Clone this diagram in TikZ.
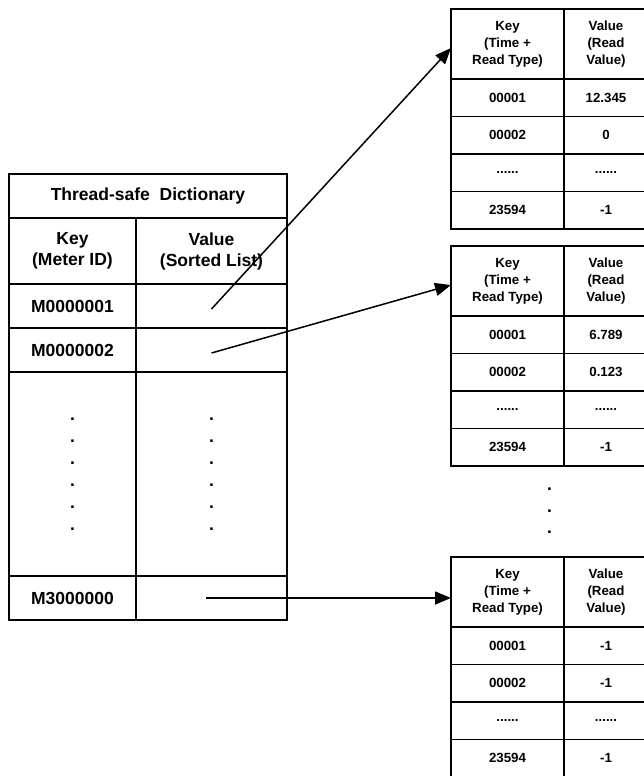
\documentclass[tikz,border=0pt]{standalone}
\usepackage{fontspec}
\setmainfont{Liberation Sans}
\usetikzlibrary{arrows.meta, positioning}
\tikzstyle{cell} = [
  rectangle,
  draw=black,
  line width=1.6pt,
  inner sep=0,
  outer sep=0,
  text centered,
  align=center
]
\tikzstyle{bigcell} = [
  cell,
  font=\fontsize{17.5}{21}\selectfont\bfseries
]
\tikzstyle{keycol} = [
  bigcell,
  minimum width=127pt,
  minimum height=44pt
]
\tikzstyle{valcol} = [
  bigcell,
  minimum width=151pt,
  minimum height=44pt
]
\tikzstyle{dotcell} = [
  minimum height=204pt,
  font=\fontsize{17.5}{22}\selectfont\bfseries
]
\tikzstyle{tkey} = [
  cell,
  minimum width=113pt,
  minimum height=37.5pt,
  font=\fontsize{13.3}{17}\selectfont\bfseries
]
\tikzstyle{tval} = [
  cell,
  minimum width=84pt,
  minimum height=37.5pt,
  font=\fontsize{13.3}{17}\selectfont\bfseries
]
\tikzstyle{arrow} = [
  line width=1.5pt,
  -{Triangle[length=16pt,width=13pt]}
]

\begin{document}
\begin{tikzpicture}[x=1pt, y=-1pt]

    \path[use as bounding box, clip] (0,0) rectangle (644,776);

    % dictionary
    \node (title) [bigcell, minimum width=278pt, minimum height=44pt, anchor=north west] at (9,174) {Thread-safe\ \ Dictionary};
    \node (lkh) [keycol, minimum height=66pt, below right=0pt and 0pt of title.south west] {Key\\(Meter ID)};
    \node (lvh) [valcol, minimum height=66pt, right=0pt of lkh] {Value\\(Sorted List)};
    \node (lk1) [keycol, below=0pt of lkh] {M0000001};
    \node (lv1) [valcol, right=0pt of lk1] {};
    \node (lk2) [keycol, below=0pt of lk1] {M0000002};
    \node (lv2) [valcol, right=0pt of lk2] {};
    \node (lkd) [keycol, dotcell, below=0pt of lk2] {.\\.\\.\\.\\.\\.};
    \node (lvd) [valcol, dotcell, right=0pt of lkd] {.\\.\\.\\.\\.\\.};
    \node (lk3) [keycol, below=0pt of lkd] {M3000000};
    \node (lv3) [valcol, right=0pt of lk3] {};

    % first sorted list
    \node (r1kh) [tkey, minimum height=70pt, anchor=north west] at (451,9) {Key\\(Time +\\Read Type)};
    \node (r1vh) [tval, minimum height=70pt, right=0pt of r1kh] {Value\\(Read\\Value)};
    \node (r1k1) [tkey, below=0pt of r1kh] {00001};
    \node (r1v1) [tval, right=0pt of r1k1] {12.345};
    \node (r1k2) [tkey, below=0pt of r1k1] {00002};
    \node (r1v2) [tval, right=0pt of r1k2] {0};
    \node (r1k3) [tkey, below=0pt of r1k2] {......};
    \node (r1v3) [tval, right=0pt of r1k3] {......};
    \node (r1k4) [tkey, below=0pt of r1k3] {23594};
    \node (r1v4) [tval, right=0pt of r1k4] {-1};

    % second sorted list
    \node (r2kh) [tkey, minimum height=70pt, below right=17pt and 0pt of r1k4.south west] {Key\\(Time +\\Read Type)};
    \node (r2vh) [tval, minimum height=70pt, right=0pt of r2kh] {Value\\(Read\\Value)};
    \node (r2k1) [tkey, below=0pt of r2kh] {00001};
    \node (r2v1) [tval, right=0pt of r2k1] {6.789};
    \node (r2k2) [tkey, below=0pt of r2k1] {00002};
    \node (r2v2) [tval, right=0pt of r2k2] {0.123};
    \node (r2k3) [tkey, below=0pt of r2k2] {......};
    \node (r2v3) [tval, right=0pt of r2k3] {......};
    \node (r2k4) [tkey, below=0pt of r2k3] {23594};
    \node (r2v4) [tval, right=0pt of r2k4] {-1};

    \node (moredots) [align=center, font=\fontsize{17.5}{21.5}\selectfont\bfseries] at (549.5,511) {.\\.\\.};

    % last sorted list
    \node (r3kh) [tkey, minimum height=70pt, below right=91pt and 0pt of r2k4.south west] {Key\\(Time +\\Read Type)};
    \node (r3vh) [tval, minimum height=70pt, right=0pt of r3kh] {Value\\(Read\\Value)};
    \node (r3k1) [tkey, below=0pt of r3kh] {00001};
    \node (r3v1) [tval, right=0pt of r3k1] {-1};
    \node (r3k2) [tkey, below=0pt of r3k1] {00002};
    \node (r3v2) [tval, right=0pt of r3k2] {-1};
    \node (r3k3) [tkey, below=0pt of r3k2] {......};
    \node (r3v3) [tval, right=0pt of r3k3] {......};
    \node (r3k4) [tkey, below=0pt of r3k3] {23594};
    \node (r3v4) [tval, right=0pt of r3k4] {-1};

    \draw [arrow] ([yshift=-3pt]lv1.center) -- ([yshift=-4pt]r1kh.west);
    \draw [arrow] ([yshift=-3pt]lv2.center) -- ([yshift=-4pt]r2kh.west);
    \draw [arrow] ([xshift=-6pt]lv3.center) -- (lv3.center -| r3kh.west);

  \end{tikzpicture}
\end{document}
